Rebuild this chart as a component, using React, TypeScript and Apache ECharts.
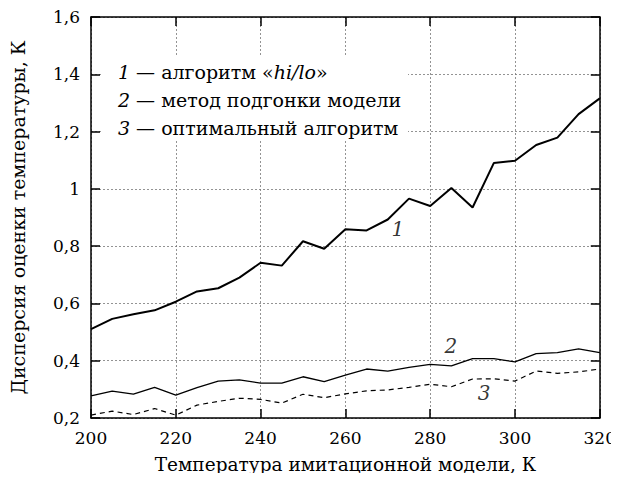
import React, { useEffect, useRef } from "react";
import * as echarts from "echarts";

const temps = [200, 205, 210, 215, 220, 225, 230, 235, 240, 245, 250, 255, 260, 265, 270, 275, 280, 285, 290, 295, 300, 305, 310, 315, 320];
const hiLo = [0.51, 0.546, 0.562, 0.576, 0.606, 0.642, 0.653, 0.69, 0.742, 0.732, 0.817, 0.791, 0.859, 0.855, 0.893, 0.966, 0.94, 1.003, 0.935, 1.09, 1.098, 1.153, 1.179, 1.261, 1.316];
const fitMethod = [0.277, 0.294, 0.283, 0.307, 0.28, 0.306, 0.329, 0.333, 0.322, 0.322, 0.344, 0.327, 0.35, 0.371, 0.364, 0.377, 0.387, 0.382, 0.407, 0.407, 0.396, 0.425, 0.428, 0.441, 0.428];
const optimal = [0.21, 0.224, 0.212, 0.233, 0.21, 0.245, 0.258, 0.269, 0.265, 0.252, 0.283, 0.271, 0.284, 0.295, 0.298, 0.307, 0.318, 0.309, 0.336, 0.337, 0.329, 0.364, 0.356, 0.361, 0.371];
const curveTags = [
  { name: "1", x: 272.4, y: 0.86 },
  { name: "2", x: 284.9, y: 0.451 },
  { name: "3", x: 292.7, y: 0.287 },
];
const legendLines = [
  { num: "1", pre: " — алгоритм «", it: "hi/lo", post: "»" },
  { num: "2", pre: " — метод подгонки модели", it: "", post: "" },
  { num: "3", pre: " — оптимальный алгоритм", it: "", post: "" },
];
const xName = "Температура имитационной модели, К";
const yName = "Дисперсия оценки температуры, К";

const FONT = "DejaVu Serif";

export default function App() {
  const ref = useRef<HTMLDivElement>(null);
  useEffect(() => {
    const chart = echarts.init(ref.current!, null, { renderer: "svg" });
    const fmtY = (v: number) => {
      const r = Math.round(v * 10) / 10;
      return String(r).replace(".", ",");
    };
    const splitLine = { show: true, lineStyle: { color: "#777", type: [2, 2], width: 0.8 } };
    const axisLine = { show: true, lineStyle: { color: "#000", width: 1.5 } };
    const axisTick = { show: true, inside: true, length: 9, lineStyle: { color: "#000", width: 1.5 } };
    const legendTexts = legendLines.map((l, i) => ({
      type: "text",
      left: 118,
      top: 62 + i * 28,
      z: 10,
      style: {
        text: `{n|${l.num}}{t|${l.pre}}${l.it ? `{i|${l.it}}` : ""}${l.post ? `{t|${l.post}}` : ""}`,
        font: `19px ${FONT}`,
        rich: {
          n: { fontFamily: FONT, fontSize: 19, fontStyle: "italic", fill: "#000" },
          t: { fontFamily: FONT, fontSize: 19, fill: "#000" },
          i: { fontFamily: FONT, fontSize: 19, fontStyle: "italic", fill: "#000" },
        },
      },
    }));
    chart.setOption({
      animation: false,
      backgroundColor: "#fff",
      textStyle: { fontFamily: FONT },
      grid: { left: 91, right: 19, top: 17, bottom: 63, containLabel: false },
      xAxis: [
        {
          type: "value",
          min: 200,
          max: 320,
          interval: 20,
          name: xName,
          nameLocation: "middle",
          nameGap: 37,
          nameTextStyle: { fontFamily: FONT, fontSize: 18.5, color: "#000" },
          axisLine,
          axisTick,
          splitLine,
          axisLabel: { fontFamily: FONT, fontSize: 17, color: "#000", margin: 11 },
        },
        {
          type: "value",
          position: "top",
          min: 200,
          max: 320,
          interval: 20,
          axisLine,
          axisTick,
          splitLine: { show: false },
          axisLabel: { show: false },
        },
      ],
      yAxis: [
        {
          type: "value",
          min: 0.2,
          max: 1.6,
          interval: 0.2,
          name: yName,
          nameLocation: "middle",
          nameGap: 64,
          nameTextStyle: { fontFamily: FONT, fontSize: 19, color: "#000" },
          axisLine,
          axisTick,
          splitLine,
          axisLabel: { fontFamily: FONT, fontSize: 17, color: "#000", margin: 11, formatter: fmtY },
        },
        {
          type: "value",
          position: "right",
          min: 0.2,
          max: 1.6,
          interval: 0.2,
          axisLine,
          axisTick,
          splitLine: { show: false },
          axisLabel: { show: false },
        },
      ],
      series: [
        {
          type: "line",
          data: temps.map((t, i) => [t, hiLo[i]]),
          showSymbol: false,
          lineStyle: { color: "#000", width: 2 },
          z: 3,
        },
        {
          type: "line",
          data: temps.map((t, i) => [t, fitMethod[i]]),
          showSymbol: false,
          lineStyle: { color: "#000", width: 1.3 },
          z: 3,
        },
        {
          type: "line",
          data: temps.map((t, i) => [t, optimal[i]]),
          showSymbol: false,
          lineStyle: { color: "#000", width: 1.2, type: [5, 4] },
          z: 3,
        },
        {
          type: "scatter",
          data: curveTags.map((c) => ({ value: [c.x, c.y], name: c.name })),
          symbolSize: 0,
          silent: true,
          label: {
            show: true,
            position: "inside",
            formatter: (p: any) => p.name,
            fontFamily: FONT,
            fontSize: 20,
            fontStyle: "italic",
            color: "#000",
          },
          z: 4,
        },
      ],
      graphic: [
        {
          type: "rect",
          shape: { x: 102, y: 57, width: 306, height: 84 },
          style: { fill: "#fff" },
          z: 5,
        },
        ...legendTexts,
      ],
    });
    return () => chart.dispose();
  }, []);
  return <div ref={ref} style={{ width: 619, height: 481, margin: -8 }} />;
}
